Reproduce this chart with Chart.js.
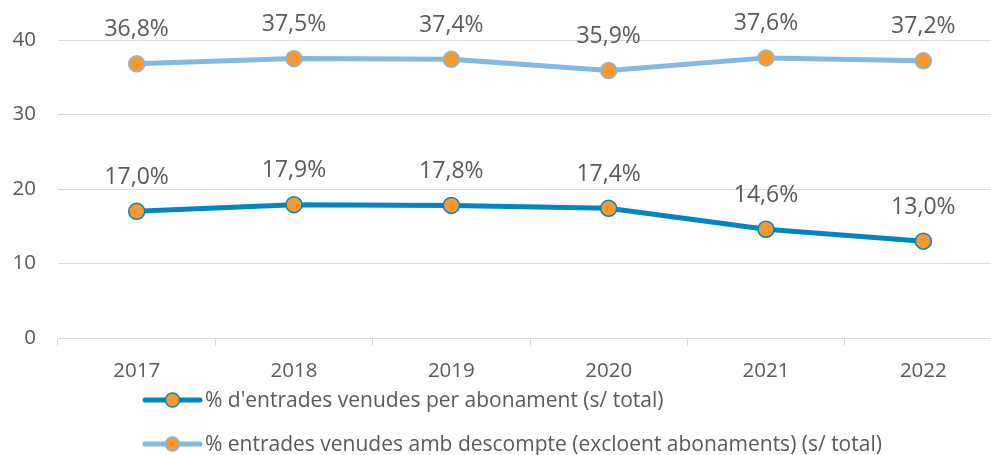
<!DOCTYPE html>
<html>
<head>
<meta charset="utf-8">
<script src="https://cdn.jsdelivr.net/npm/chart.js@4/dist/chart.umd.min.js"></script>
<style>
  html, body { margin: 0; padding: 0; background: #fff; overflow: hidden; width: 991px; height: 455px; }
  #wrap { width: 1002px; height: 455px; }
  #lineChart { display: block; width: 1002px; height: 455px; }
</style>
</head>
<body>
<div id="wrap"><canvas id="lineChart" width="1002" height="455"></canvas></div>
<script>
const years = ['2017', '2018', '2019', '2020', '2021', '2022'];
const subscriptionPct = [17.0, 17.9, 17.8, 17.4, 14.6, 13.0];
const discountPct = [36.8, 37.5, 37.4, 35.9, 37.6, 37.2];
const seriesNames = [
  "% d'entrades venudes per abonament (s/ total)",
  '% entrades venudes amb descompte (excloent abonaments) (s/ total)'
];

const FONT = '"Open Sans", sans-serif';
const GREY = '#595959';
const ORANGE = '#F7992F';

// value labels above each point, Excel style "36,8%"
const valueLabels = {
  id: 'valueLabels',
  afterDatasetsDraw(chart) {
    const ctx = chart.ctx;
    ctx.save();
    ctx.font = '23px ' + FONT;
    ctx.fillStyle = GREY;
    ctx.textAlign = 'center';
    ctx.textBaseline = 'middle';
    chart.data.datasets.forEach((ds, i) => {
      chart.getDatasetMeta(i).data.forEach((pt, j) => {
        const txt = ds.data[j].toFixed(1).replace('.', ',') + '%';
        ctx.fillText(txt, pt.x, pt.y - 34);
      });
    });
    ctx.restore();
  }
};

// legend drawn as two left-aligned rows
const rowLegend = {
  id: 'rowLegend',
  afterDraw(chart) {
    const ctx = chart.ctx;
    const x0 = 145, rows = [400, 444];
    ctx.save();
    chart.data.datasets.forEach((ds, i) => {
      const y = rows[i];
      ctx.strokeStyle = ds.borderColor;
      ctx.lineWidth = 5;
      ctx.lineCap = 'round';
      ctx.beginPath();
      ctx.moveTo(x0, y);
      ctx.lineTo(x0 + 55, y);
      ctx.stroke();
      ctx.beginPath();
      ctx.arc(x0 + 27.5, y, 7, 0, Math.PI * 2);
      ctx.fillStyle = ds.pointBackgroundColor;
      ctx.fill();
      ctx.lineWidth = 1.5;
      ctx.stroke();
      ctx.font = '21px ' + FONT;
      ctx.fillStyle = GREY;
      ctx.textAlign = 'left';
      ctx.textBaseline = 'middle';
      ctx.fillText(ds.label, x0 + 60, y + 1);
    });
    ctx.restore();
  }
};

const ctx = document.getElementById('lineChart').getContext('2d');
new Chart(ctx, {
  type: 'line',
  data: {
    labels: years,
    datasets: [
      {
        label: seriesNames[0],
        data: subscriptionPct,
        borderColor: '#0086BF',
        borderWidth: 5,
        pointBackgroundColor: ORANGE,
        pointBorderColor: '#0086BF',
        pointBorderWidth: 1.5,
        pointRadius: 8,
        tension: 0
      },
      {
        label: seriesNames[1],
        data: discountPct,
        borderColor: '#82B8E2',
        borderWidth: 5,
        pointBackgroundColor: ORANGE,
        pointBorderColor: '#82B8E2',
        pointBorderWidth: 1.5,
        pointRadius: 8,
        tension: 0
      }
    ]
  },
  options: {
    responsive: false,
    animation: false,
    layout: { autoPadding: false, padding: { top: 40, left: 0, right: 0, bottom: 0 } },
    plugins: {
      legend: { display: false },
      tooltip: { enabled: false }
    },
    scales: {
      x: {
        offset: true,
        grid: {
          offset: true,
          drawOnChartArea: false,
          color: '#D9D9D9',
          tickLength: 8
        },
        border: { color: '#D9D9D9', width: 1 },
        ticks: { color: GREY, font: { family: FONT, size: 20.5 }, padding: 13 },
        afterFit(scale) { scale.height = 117; }
      },
      y: {
        min: 0,
        max: 40,
        grid: { color: '#D9D9D9', drawTicks: false },
        border: { display: false },
        ticks: { stepSize: 10, color: GREY, font: { family: FONT, size: 20.5 }, padding: 22 },
        afterFit(scale) { scale.width = 58; }
      }
    }
  },
  plugins: [valueLabels, rowLegend]
});
</script>
</body>
</html>
